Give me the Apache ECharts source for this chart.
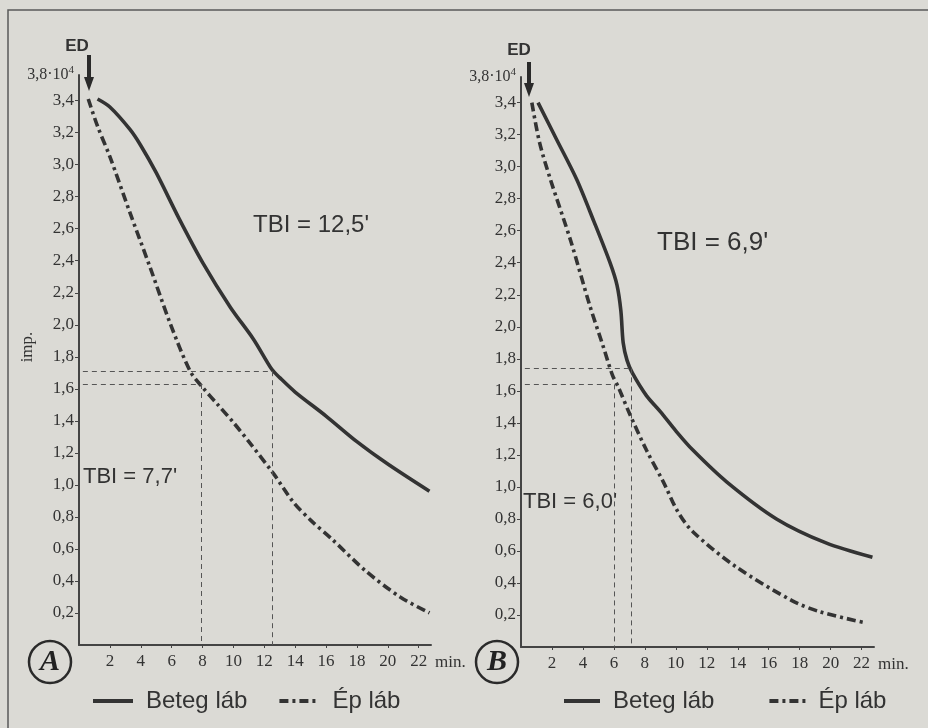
<!DOCTYPE html>
<html>
<head>
<meta charset="utf-8">
<title>TBI</title>
<script src="https://cdn.jsdelivr.net/npm/echarts@6/dist/echarts.min.js"></script>
<style>
    html, body { margin: 0; padding: 0; background: #dbdad5; }
    #chart { width: 928px; height: 728px; }
</style>
</head>
<body>
<div id="chart"></div>
<script>
// panel A, [min, imp. x10^4]
const aBeteg = [[1.2,3.41],[2,3.36],[3.3,3.22],[4,3.12],[5,2.95],[6.5,2.66],[8,2.39],[9.8,2.11],[11.3,1.91],[12.5,1.72],[13,1.67],[14,1.58],[16,1.43],[18,1.27],[20,1.13],[22.7,0.96]]
const aEp = [[0.6,3.41],[1.2,3.24],[2,3.05],[3.3,2.70],[4.6,2.36],[5.9,2.01],[7.2,1.71],[8,1.61],[9,1.5],[10,1.39],[11,1.27],[12.6,1.07],[13.9,0.89],[15,0.78],[16.4,0.66],[18.6,0.46],[20.8,0.30],[22.7,0.20]]
// panel B
const bBeteg = [[1.1,3.4],[2.3,3.17],[3.6,2.92],[4.7,2.66],[5.75,2.40],[6.2,2.26],[6.45,2.1],[6.6,1.9],[6.85,1.79],[7.2,1.71],[8.1,1.57],[9,1.47],[10,1.35],[11.1,1.23],[13.3,1.03],[16.5,0.8],[19.7,0.65],[22.7,0.56]]
const bEp = [[0.7,3.4],[1.2,3.15],[1.9,2.92],[3.2,2.54],[4.45,2.13],[5.3,1.88],[5.9,1.70],[6.3,1.62],[7.0,1.46],[8.1,1.23],[9.2,1.03],[10.1,0.85],[11.1,0.72],[13.9,0.50],[17.5,0.29],[19.3,0.22],[22.3,0.15]]

// where the dashed TBI guides meet the curves [min, imp]
const aGuide = [[7.95,1.63],[12.5,1.71]]
const bGuide = [[6.0,1.64],[7.1,1.74]]

const xTicks = [2,4,6,8,10,12,14,16,18,20,22]
const yTicks = [0.2,0.4,0.6,0.8,1.0,1.2,1.4,1.6,1.8,2.0,2.2,2.4,2.6,2.8,3.0,3.2,3.4]
const yTop = 3.56
const yTopLabel = '{t|3,8·10}{s|4}'
const names = ['Beteg láb', 'Ép láb']
const tbiText = ["TBI = 12,5'", "TBI = 7,7'", "TBI = 6,9'", "TBI = 6,0'"]

const ink = '#333'
const serif = 'Liberation Serif'
const sans = 'Liberation Sans'
const dashDot = [9, 4, 3, 4]

function xAx(grid){
    return {
        type: 'value', gridIndex: grid, min: 0, max: 22.8,
        name: 'min.', nameLocation: 'end', nameGap: 4,
        nameTextStyle: { color: ink, fontFamily: serif, fontSize: 17, verticalAlign: 'top', padding: [9,0,0,0] },
        axisLine: { lineStyle: { color: '#444', width: 2 } },
        axisTick: { customValues: xTicks, length: 3, lineStyle: { color: '#444' } },
        axisLabel: { customValues: xTicks, color: ink, fontFamily: serif, fontSize: 17, margin: 8 },
        splitLine: { show: false }
    }
}
function yAx(grid){
    return {
        type: 'value', gridIndex: grid, min: 0, max: yTop,
        axisLine: { show: true, lineStyle: { color: '#444', width: 2 } },
        axisTick: { show: true, customValues: yTicks, length: 4, lineStyle: { color: '#444' } },
        axisLabel: {
            customValues: yTicks.concat([yTop]),
            color: ink, fontFamily: serif, fontSize: 17, margin: 5,
            formatter: (v) => v === yTop ? yTopLabel : v.toFixed(1).replace('.', ','),
            rich: {
                t: { fontFamily: serif, fontSize: 16, color: ink },
                s: { fontFamily: serif, fontSize: 11, color: ink, padding: [0,0,9,0] }
            }
        },
        splitLine: { show: false }
    }
}
function guides(g){
    let d = []
    for(let i=0; i<g.length; i++){
        d.push([{ coord: [0.25, g[i][1]] }, { coord: [g[i][0], g[i][1]] }])
        d.push([{ coord: [g[i][0], g[i][1]] }, { coord: [g[i][0], 0] }])
    }
    return {
        silent: true, symbol: ['none','none'], label: { show: false },
        lineStyle: { type: [5,4], width: 1, color: '#555' },
        data: d
    }
}
function line(name, grid, data, type, g){
    let se = {
        name: name, type: 'line', xAxisIndex: grid, yAxisIndex: grid,
        data: data, symbol: 'none', smooth: 0.3,
        lineStyle: { color: ink, width: 3.6, type: type },
        itemStyle: { color: ink }
    }
    if (g) se.markLine = guides(g)
    return se
}
function label(x, y, text, size, extra){
    return { type: 'text', x: x, y: y, style: Object.assign({ text: text, fill: ink, font: size + 'px "' + sans + '"', textVerticalAlign: 'middle' }, extra || {}) }
}
function arrow(x, y0, y1){
    return { type: 'group', children: [
        { type: 'rect', shape: { x: x-2, y: y0, width: 4, height: y1-y0-12 }, style: { fill: '#2a2a2a' } },
        { type: 'polygon', shape: { points: [[x-5,y1-14],[x+5,y1-14],[x,y1]] }, style: { fill: '#2a2a2a' } }
    ]}
}
function circled(cx, cy, letter){
    return { type: 'group', children: [
        { type: 'circle', shape: { cx: cx, cy: cy, r: 21 }, style: { fill: 'none', stroke: '#2a2a2a', lineWidth: 2.5 } },
        { type: 'text', x: cx, y: cy, style: { text: letter, fill: '#222', font: 'italic bold 30px "' + serif + '"', textAlign: 'center', textVerticalAlign: 'middle' } }
    ]}
}

let legendBase = {
    top: 684, itemHeight: 14, data: names,
    itemStyle: { opacity: 0 },
    lineStyle: { width: 4 },
    textStyle: { color: ink, fontFamily: sans, fontSize: 24, padding: [0,0,0,8] }
}

let chart = echarts.init(document.getElementById('chart'))
let option = {
    backgroundColor: '#dbdad5',
    animation: false,
    grid: [
        { left: 79, top: 75, width: 352, height: 570 },
        { left: 521, top: 77, width: 353, height: 570 }
    ],
    xAxis: [xAx(0), xAx(1)],
    yAxis: [yAx(0), yAx(1)],
    legend: [
        Object.assign({}, legendBase, { left: 86, itemWidth: 40, itemGap: 30 }),
        Object.assign({}, legendBase, { left: 557, itemWidth: 36, itemGap: 53 })
    ],
    series: [
        line(names[0], 0, aBeteg, 'solid', aGuide),
        line(names[1], 0, aEp, dashDot),
        line(names[0], 1, bBeteg, 'solid', bGuide),
        line(names[1], 1, bEp, dashDot)
    ],
    graphic: [
        { type: 'rect', shape: { x: 8, y: 10, width: 960, height: 760 }, style: { fill: 'none', stroke: '#5a5a5a', lineWidth: 1.5 } },
        label(77, 46, 'ED', 17, { font: 'bold 17px "' + sans + '"', textAlign: 'center' }),
        label(519, 50, 'ED', 17, { font: 'bold 17px "' + sans + '"', textAlign: 'center' }),
        arrow(89, 55, 91),
        arrow(529, 62, 97),
        label(253, 225, tbiText[0], 24),
        label(83, 477, tbiText[1], 22),
        label(657, 243, tbiText[2], 26),
        label(523, 502, tbiText[3], 22),
        { type: 'text', x: 28, y: 347, rotation: Math.PI / 2,
          style: { text: 'imp.', fill: ink, font: '17px "' + serif + '"', textAlign: 'center', textVerticalAlign: 'middle' } },
        circled(50, 662, 'A'),
        circled(497, 662, 'B')
    ]
}
chart.setOption(option)
</script>
</body>
</html>
